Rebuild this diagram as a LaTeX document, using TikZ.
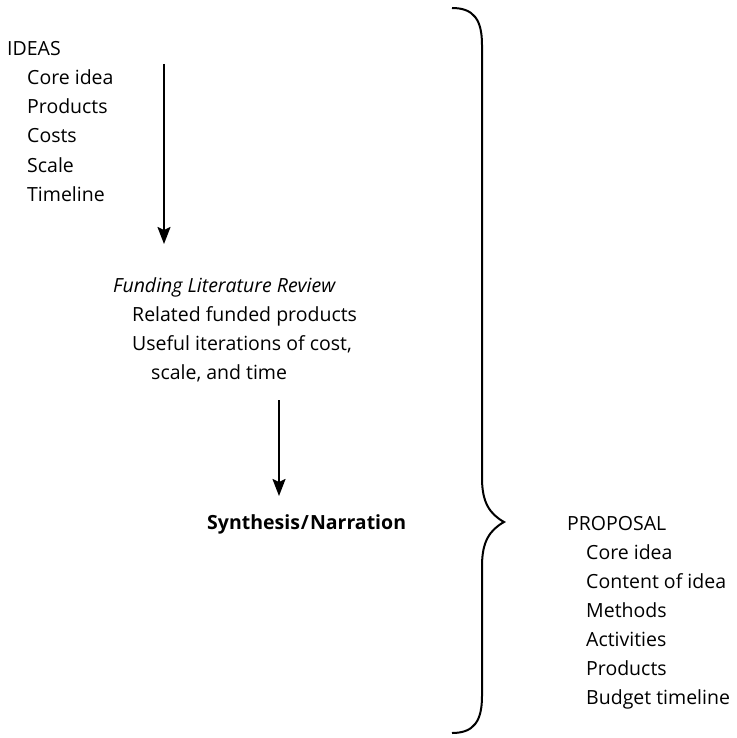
\documentclass[tikz,border=0pt]{standalone}
\usepackage{fontspec}
\setmainfont{Open Sans}
\usetikzlibrary{arrows.meta}
\begin{document}
\begin{tikzpicture}[x=1pt,y=-1pt,
  txt/.style={anchor=base west,inner sep=0pt,font=\fontsize{19.5}{29}\selectfont},
  flow/.style={line width=2pt,-{Stealth[length=17pt,width=13pt,inset=3pt]}},
  brace/.style={line width=2pt}]
\useasboundingbox (0,0) rectangle (736,738);
% IDEAS
\node[txt] (ideas) at (7,56) {IDEAS};
\node[txt] (i1) at (27,85) {Core idea};
\node[txt] (i2) at (27,114) {Products};
\node[txt] (i3) at (27,143) {Costs};
\node[txt] (i4) at (27,172) {Scale};
\node[txt] (i5) at (27,201) {Timeline};
% Funding literature review
\node[txt,font=\fontsize{19.5}{29}\selectfont\itshape] (flr) at (113,292) {Funding Literature Review};
\node[txt] (f1) at (132,321) {Related funded products};
\node[txt] (f2) at (132,350) {Useful iterations of cost,};
\node[txt] (f3) at (151,379) {scale, and time};
% Synthesis
\node[txt,font=\fontsize{19.5}{29}\selectfont\bfseries] (syn) at (207,529) {Synthesis\kern1pt/\kern1pt Narration};
% Proposal
\node[txt] (prop) at (567,530) {PROPOSAL};
\node[txt] (p1) at (586,559) {Core idea};
\node[txt] (p2) at (586,588) {Content of idea};
\node[txt] (p3) at (586,617) {Methods};
\node[txt] (p4) at (586,646) {Activities};
\node[txt] (p5) at (586,675) {Products};
\node[txt] (p6) at (586,704) {Budget timeline};
% arrows
\coordinate (a1s) at (164,64);
\coordinate (a1e) at (164,244);
\coordinate (a2s) at (279,400);
\coordinate (a2e) at (279,496);
\draw[flow] (a1s) -- (a1e);
\draw[flow] (a2s) -- (a2e);
% brace
\coordinate (btop) at (452,8);
\coordinate (btip) at (504,522);
\coordinate (bbot) at (452,733);
\draw[brace] (btop) .. controls (474,8) and (482,20) .. (482,45)
  -- (482,478) .. controls (482,503) and (490,514) .. (btip)
  .. controls (490,530) and (482,541) .. (482,566)
  -- (482,696) .. controls (482,721) and (474,733) .. (bbot);
\end{tikzpicture}
\end{document}
